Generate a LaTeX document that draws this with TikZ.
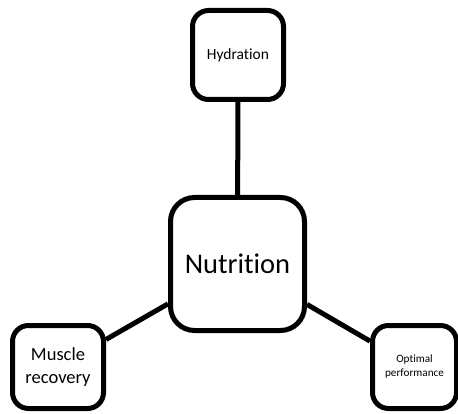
\documentclass[tikz,border=0pt]{standalone}
\usepackage{fontspec}
\setmainfont{Carlito}[Ligatures=NoCommon]
\usepackage{tikz}
\usetikzlibrary{positioning}

\tikzset{
  topic/.style={draw=black, line width=5pt, rounded corners=16pt, align=center, inner sep=2pt},
  link/.style={draw=black, line width=5pt}
}

\begin{document}
\begin{tikzpicture}[x=1pt, y=-1pt]
                \useasboundingbox (0,0) rectangle (458,414);
                %\draw[dashed] (0,0) rectangle (458,414);
                \node[topic, minimum width=91pt, minimum height=89pt, font=\fontsize{15.5}{18}\selectfont] (hydration) at (238,55) {Hydration};
                \node[topic, minimum width=134pt, minimum height=133pt, rounded corners=24pt, font=\fontsize{28.5}{34}\selectfont] (nutrition) at (237.5,264) {Nutrition};
                \node[topic, minimum width=91pt, minimum height=83pt, font=\fontsize{18.5}{23}\selectfont] (muscle) at (58,367) {Muscle\\recovery};
                \node[topic, minimum width=84pt, minimum height=83pt, font=\fontsize{11.2}{14}\selectfont] (optimal) at (414.5,367) {Optimal\\performance};
                \draw[link] (hydration) -- (nutrition);
                \draw[link] (nutrition) -- (muscle);
                \draw[link] (nutrition) -- (optimal);
            \end{tikzpicture}
\end{document}
